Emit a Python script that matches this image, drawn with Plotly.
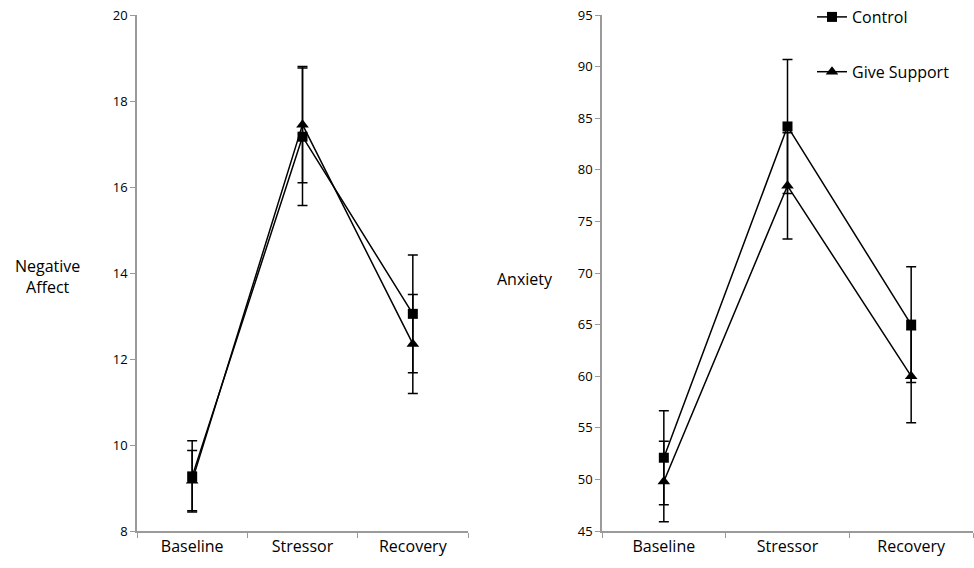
import plotly.graph_objects as go

categories = ["Baseline", "Stressor", "Recovery"]

na_control = [9.27, 17.17, 13.05]
na_control_err = [0.83, 1.6, 1.37]
na_support = [9.17, 17.45, 12.35]
na_support_err = [0.7, 1.35, 1.15]

anx_control = [52.1, 84.2, 65.0]
anx_control_err = [4.55, 6.5, 5.6]
anx_support = [49.8, 78.45, 60.0]
anx_support_err = [3.9, 5.15, 4.5]

FONT = "Open Sans, Noto Sans, sans-serif"
AXIS_GRAY = "#9a9a9a"

fig = go.Figure()

def add(x_axis, y_axis, y, err, symbol, name, show):
    fig.add_trace(go.Scatter(
        x=categories, y=y, name=name, mode="lines+markers",
        xaxis=x_axis, yaxis=y_axis,
        line=dict(color="black", width=1.5),
        marker=dict(symbol=symbol, size=10 if symbol == "square" else 11, color="black"),
        error_y=dict(type="data", array=err, color="black", thickness=1.5, width=5),
        showlegend=show, legendgroup=name,
    ))

add("x", "y", na_control, na_control_err, "square", "Control", False)
add("x", "y", na_support, na_support_err, "triangle-up", "Give Support", False)
add("x2", "y2", anx_control, anx_control_err, "square", "Control", True)
add("x2", "y2", anx_support, anx_support_err, "triangle-up", "Give Support", True)

W, H = 974, 568


def px(X):
    return X / W


def py(Y):
    return 1 - Y / H


xcommon = dict(type="category", range=[-0.5, 2.5], tickson="boundaries",
               ticks="outside", ticklen=5, tickcolor=AXIS_GRAY, showline=True,
               linecolor=AXIS_GRAY, linewidth=1.5, showgrid=False, zeroline=False,
               automargin=False, ticklabeloverflow="allow",
               tickfont=dict(family=FONT, size=16, color="black"),
               categoryorder="array", categoryarray=categories)
ycommon = dict(ticks="outside", ticklen=5, tickcolor=AXIS_GRAY, showline=True,
               linecolor=AXIS_GRAY, linewidth=1.5, showgrid=False, zeroline=False,
               automargin=False, ticklabeloverflow="allow",
               tickfont=dict(family=FONT, size=13, color="black"))

fig.update_layout(
    width=W, height=H,
    margin=dict(l=0, r=0, t=0, b=0, autoexpand=False),
    paper_bgcolor="white", plot_bgcolor="white",
    xaxis=dict(domain=[px(137), px(468)], anchor="y", **xcommon),
    yaxis=dict(domain=[py(531), py(15)], anchor="x", range=[8, 20], dtick=2, **ycommon),
    xaxis2=dict(domain=[px(602), px(973)], anchor="y2", **xcommon),
    yaxis2=dict(domain=[py(531), py(15)], anchor="x2", range=[45, 95], dtick=5, **ycommon),
    legend=dict(x=px(812), y=1.0, xanchor="left", yanchor="top",
                traceorder="grouped", tracegroupgap=31,
                font=dict(family=FONT, size=16, color="black"),
                bgcolor="rgba(0,0,0,0)"),
    annotations=[
        dict(text="Negative<br>Affect", x=px(47), y=py(276), xref="paper", yref="paper",
             xanchor="center", yanchor="middle",
             showarrow=False, font=dict(family=FONT, size=16, color="black"), align="center"),
        dict(text="Anxiety", x=px(525), y=py(279), xref="paper", yref="paper",
             xanchor="center", yanchor="middle",
             showarrow=False, font=dict(family=FONT, size=16, color="black")),
    ],
)

fig.write_html(
    "out.html",
    config={"displayModeBar": False},
    post_script="document.body.style.margin='0';document.body.style.overflow='hidden';",
)
